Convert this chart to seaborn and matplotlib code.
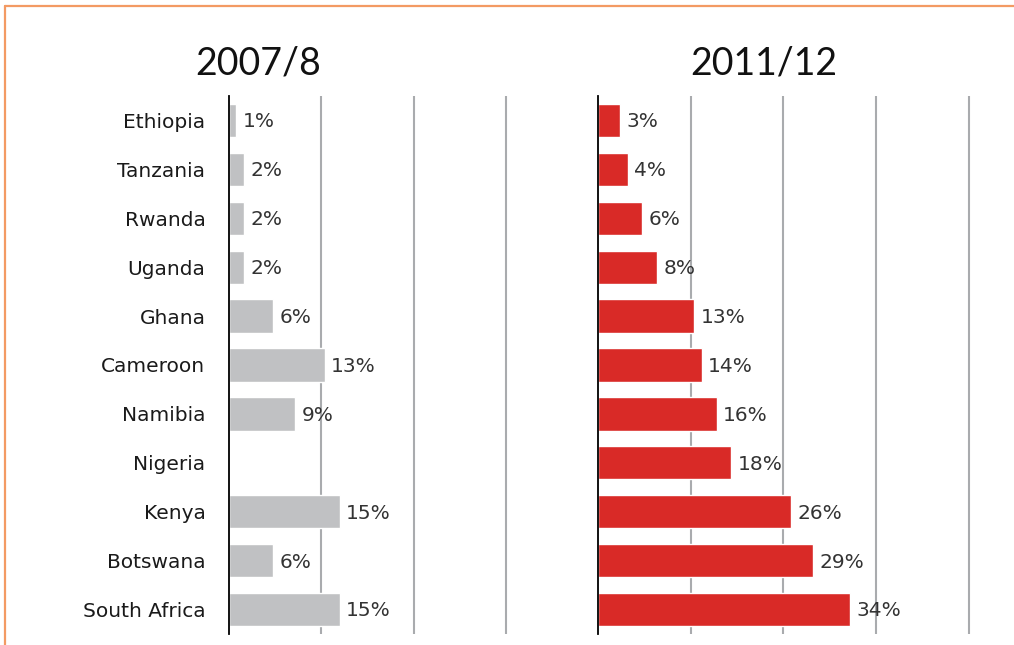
import numpy as np
import pandas as pd
import seaborn as sns
import matplotlib.pyplot as plt
from matplotlib.lines import Line2D

countries = ["Ethiopia", "Tanzania", "Rwanda", "Uganda", "Ghana", "Cameroon",
             "Namibia", "Nigeria", "Kenya", "Botswana", "South Africa"]
share_2007 = [1, 2, 2, 2, 6, 13, 9, np.nan, 15, 6, 15]
share_2011 = [3, 4, 6, 8, 13, 14, 16, 18, 26, 29, 34]
titles = ["2007/8", "2011/12"]

sns.set_theme(style="white")
plt.rcParams['font.family'] = ['DejaVu Sans']

df = pd.DataFrame({"country": countries, "2007/8": share_2007, "2011/12": share_2011})

fig = plt.figure(figsize=(10.14, 6.45), dpi=100)
ax1 = fig.add_axes([229 / 1014, 1 - 634 / 645, 369 / 1014, 538 / 645])
ax2 = fig.add_axes([598 / 1014, 1 - 634 / 645, 373 / 1014, 538 / 645])

grid_col = "#a9abae"

for ax, col, color, ticks, xmax in [
        (ax1, "2007/8", "#c0c1c3", [12.5, 25, 37.5], 50),
        (ax2, "2011/12", "#d92a27", [12.5, 25, 37.5, 50], 50.3)]:
    sns.barplot(data=df, x=col, y="country", color=color, orient="h",
                width=0.68, saturation=1, ax=ax)
    ax.set_xlim(0, xmax)
    ax.set_xticks(ticks)
    ax.set_xticklabels([])
    ax.grid(axis="x", color=grid_col, linewidth=1.5)
    ax.grid(axis="y", visible=False)
    ax.set_axisbelow(True)
    ax.set_xlabel("")
    ax.set_ylabel("")
    for s in ["top", "right", "bottom"]:
        ax.spines[s].set_visible(False)
    ax.spines["left"].set_color("black")
    ax.spines["left"].set_linewidth(1.3)
    ax.tick_params(axis="both", length=0)
    # value labels next to each bar
    for i, v in enumerate(df[col]):
        if pd.isna(v):
            continue
        ax.annotate(f"{int(v)}%", (v, i), xytext=(4.5, -1), textcoords="offset points",
                    ha="left", va="center", fontsize=14.5, color="#333333")

ax1.tick_params(axis="y", labelsize=14.5, labelcolor="#1a1a1a", pad=17)
ax2.set_yticklabels([])

fig.text(258 / 1014, 1 - 64 / 645, titles[0], fontsize=27, family="Lato",
         ha="center", va="center", color="#111111")
fig.text(764 / 1014, 1 - 64 / 645, titles[1], fontsize=27, family="Lato",
         ha="center", va="center", color="#111111")

# orange frame
orange = "#f39a63"
fig.add_artist(Line2D([5 / 1014, 1], [1 - 6 / 645, 1 - 6 / 645], color=orange,
                      linewidth=1.6, transform=fig.transFigure))
fig.add_artist(Line2D([5 / 1014, 5 / 1014], [0, 1 - 6 / 645], color=orange,
                      linewidth=1.6, transform=fig.transFigure))

fig.savefig("out.png", dpi=100)
